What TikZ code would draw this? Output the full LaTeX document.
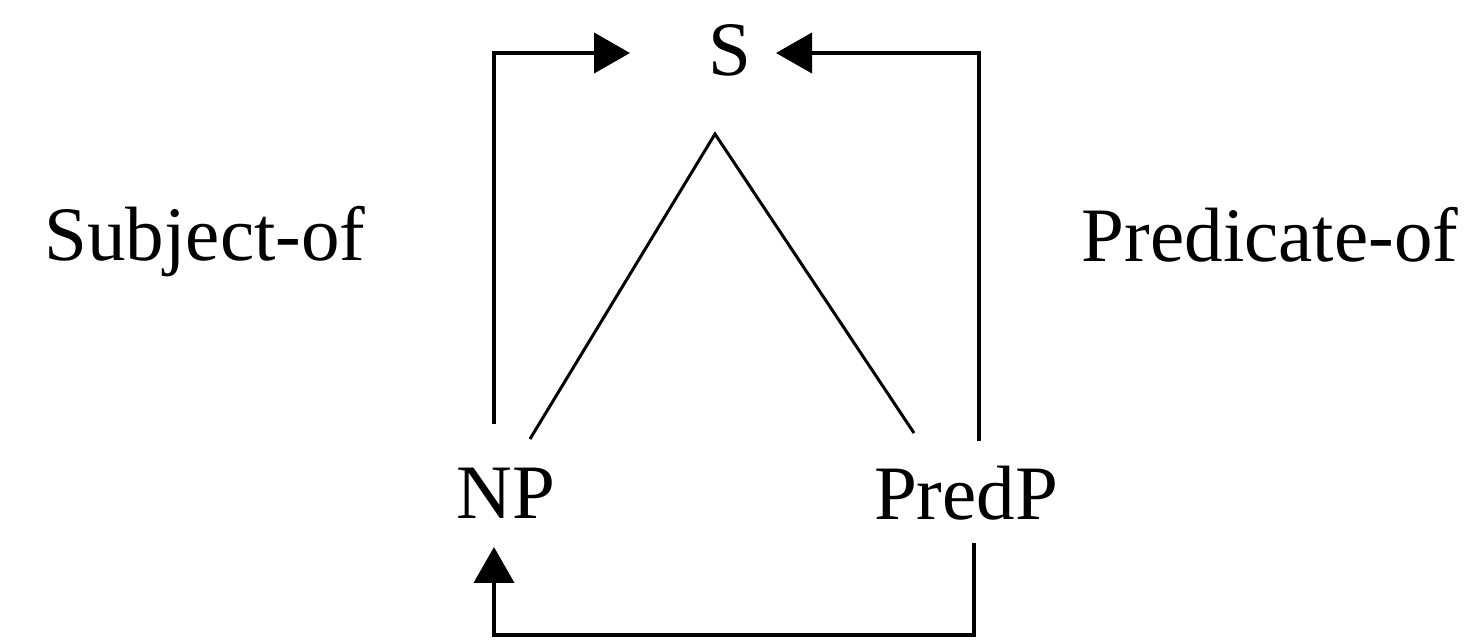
\documentclass[tikz,border=0pt]{standalone}
\usepackage{fontspec}
\setmainfont{Liberation Serif}
\usetikzlibrary{arrows.meta}
\begin{document}
\begin{tikzpicture}[x=0.5pt,y=-0.5pt,
  lbl/.style={anchor=base,inner sep=0pt,font=\fontsize{38.5pt}{46pt}\selectfont},
  bracket/.style={line width=2pt},
  branch/.style={line width=1.5pt},
  tip/.style={-{Triangle[length=18pt,width=20pt]}}]
\useasboundingbox (0,0) rectangle (1468,640);
\node[lbl] (S) at (730,76) {S};
\node[lbl] (NP) at (506,519) {NP};
\node[lbl] (PredP) at (966,520) {PredP};
\node[lbl] (subj) at (205,261) {Subject-of};
\node[lbl] (pred) at (1270,262) {Predicate-of};
% free ends
\coordinate (apex) at (715,134);
\coordinate (npTop) at (530,439);
\coordinate (ppTop) at (914,433);
\coordinate (lUp) at (494,424);
\coordinate (lTip) at (630,53);
\coordinate (rUp) at (979,441);
\coordinate (rTip) at (776,53);
\coordinate (bStart) at (974,543);
\coordinate (bCorner) at (974,635);
\coordinate (bLeft) at (494,635);
\coordinate (bTip) at (494,547);
% tree branches
\draw[branch] (npTop) -- (apex) -- (ppTop);
% subject-of bracket
\draw[bracket,tip] (lUp) |- (lTip);
% predicate-of bracket
\draw[bracket,tip] (rUp) |- (rTip);
% bottom bracket
\draw[bracket,tip] (bStart) -- (bCorner) -- (bLeft) -- (bTip);
\end{tikzpicture}
\end{document}
